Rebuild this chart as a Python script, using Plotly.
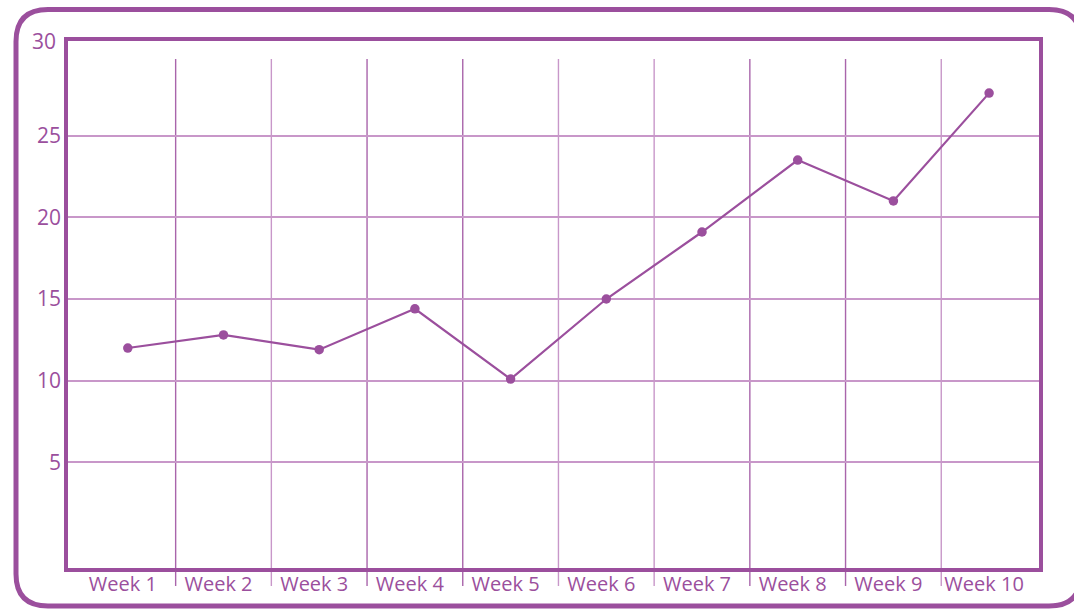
import plotly.graph_objects as go

# ---- data ----
weeks = ["Week 1", "Week 2", "Week 3", "Week 4", "Week 5",
         "Week 6", "Week 7", "Week 8", "Week 9", "Week 10"]
values = [12.0, 12.8, 11.9, 14.4, 10.1, 15.0, 19.1, 23.5, 21.0, 27.6]
y_ticks = [5, 10, 15, 20, 25]
y_top_label = "30"

PURPLE = "#9b4f9d"
LIGHT = "#c897c9"
MID = "#a965ab"

# plot area in pixels
W_FIG, H_FIG = 1074, 609
L, R, T, B = 66, 1041, 39, 570
PW, PH = R - L, B - T


def px(x):
    return (x - L) / PW


def py(y):
    return (B - y) / PH


xs = list(range(len(weeks)))

fig = go.Figure()
fig.add_trace(go.Scatter(
    x=xs, y=values, mode="lines+markers",
    line=dict(color=PURPLE, width=2.2),
    marker=dict(color=PURPLE, size=9.5),
    hoverinfo="skip", showlegend=False,
))

shapes = []
# vertical grid lines between categories (extend below plot as tick marks)
dark = {0, 2, 3, 6, 7}
for i in range(len(weeks) - 1):
    shapes.append(dict(
        type="line", xref="x", yref="paper",
        x0=i + 0.5, x1=i + 0.5, y0=py(586), y1=py(59),
        line=dict(color=MID if i in dark else LIGHT, width=1.4),
        layer="below",
    ))
# inner plot frame
shapes.append(dict(type="rect", xref="paper", yref="paper",
                   x0=0, x1=1, y0=0, y1=1,
                   line=dict(color=PURPLE, width=4), layer="above"))
# outer rounded frame (right side runs off the page)
ol, ot, orr, ob, rad = 16, 9.5, 1081, 606, 32
path = (
    f"M {px(ol + rad)} {py(ot)} "
    f"L {px(orr - rad)} {py(ot)} "
    f"Q {px(orr)} {py(ot)} {px(orr)} {py(ot + rad)} "
    f"L {px(orr)} {py(ob - rad)} "
    f"Q {px(orr)} {py(ob)} {px(orr - rad)} {py(ob)} "
    f"L {px(ol + rad)} {py(ob)} "
    f"Q {px(ol)} {py(ob)} {px(ol)} {py(ob - rad)} "
    f"L {px(ol)} {py(ot + rad)} "
    f"Q {px(ol)} {py(ot)} {px(ol + rad)} {py(ot)} Z"
)
shapes.append(dict(type="path", xref="paper", yref="paper", path=path,
                   line=dict(color=PURPLE, width=5), layer="above"))

# y scale: 0 at pixel 544.1, 16.34 px per unit
y0_px, per_unit = 544.1, 16.34
y_range = [(y0_px - B) / per_unit, (y0_px - T) / per_unit]
band = 95.7
x0_px = 127.8
x_range = [(L - x0_px) / band, (R - x0_px) / band]

FONT = "Open Sans, Noto Sans, sans-serif"

fig.update_layout(
    width=W_FIG, height=H_FIG,
    margin=dict(l=L, r=W_FIG - R, t=T, b=H_FIG - B, pad=0),
    paper_bgcolor="white", plot_bgcolor="white",
    shapes=shapes,
    xaxis=dict(
        range=x_range, tickmode="array", tickvals=xs, ticktext=weeks,
        showgrid=False, zeroline=False, showline=False, ticks="",
        tickfont=dict(family=FONT, size=20, color=PURPLE),
        ticklabelshift=-5, ticklabelstandoff=0,
    ),
    yaxis=dict(
        range=y_range, tickmode="array", tickvals=y_ticks,
        ticktext=[str(v) for v in y_ticks],
        showgrid=True, gridcolor=LIGHT, gridwidth=1.5,
        zeroline=False, showline=False, ticks="",
        tickfont=dict(family=FONT, size=21, color=PURPLE),
        ticklabelstandoff=4,
    ),
    annotations=[dict(
        xref="paper", yref="paper", x=px(58), y=py(41),
        xanchor="right", yanchor="middle", text=y_top_label,
        showarrow=False, font=dict(family=FONT, size=21, color=PURPLE),
    )],
)

fig.write_html(
    "out.html",
    config={"displayModeBar": False},
    post_script="document.body.style.margin='0';document.body.style.overflow='hidden';",
)
